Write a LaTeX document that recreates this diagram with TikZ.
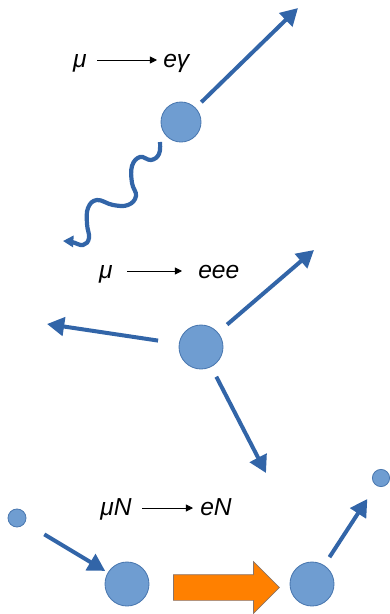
\documentclass[tikz,border=0pt]{standalone}
\usepackage{fontspec}
\setmainfont{Liberation Sans}
\usetikzlibrary{arrows.meta, shapes.arrows}
\definecolor{cball}{HTML}{6F9DD1}
\definecolor{cedge}{HTML}{4A78B0}
\definecolor{cray}{HTML}{3265A8}
\definecolor{corange}{HTML}{FF8000}
\definecolor{coedge}{HTML}{8A7468}
\tikzset{
  ball/.style={circle, draw=cedge, fill=cball, line width=0.6pt, minimum size=#1, inner sep=0pt},
  ball/.default=11mm,
  ray/.style={-{Triangle[length=4.3mm, width=4.6mm]}, draw=cray, line width=1mm},
  photon/.style={-{Triangle[length=2.6mm, width=2.8mm]}, draw=cray, line width=1.05mm},
  rxn/.style={-{Triangle[length=1.8mm, width=1.8mm]}, line width=0.22mm},
  eq/.style={font=\itshape\fontsize{17.5}{20}\selectfont, inner sep=0pt},
  push/.style={single arrow, draw=coedge, fill=corange, line width=0.5pt, minimum height=26.5mm,
               single arrow head extend=3.25mm, inner xsep=0pt, inner ysep=3.125mm},
}
\begin{document}
\begin{tikzpicture}[x=0.25mm, y=-0.25mm]
  \useasboundingbox (0,0) rectangle (390,614);
  % mu -> e gamma
  \node[eq, anchor=base east] (mu1) at (87,67) {μ};
  \node[eq, anchor=base west] (eg) at (163,67) {eγ};
  \draw[rxn, shorten <=2.5mm, shorten >=1.5mm] ([yshift=1.75mm]mu1.base east) -- ([yshift=1.75mm]eg.base west);
  \node[ball=10mm] (c1) at (181,122) {};
  \coordinate (t1) at (298,8);
  \draw[ray, shorten <=2mm] (c1) -- (t1);
  \draw[photon] plot[smooth, tension=0.7] coordinates {(160,142) (159,154) (151,160) (140,157) (132,166)
    (132,183) (136,196) (128,205) (113,205) (97,200) (88,208) (87,224) (89,238) (83,245) (72,242) (63,241)};
  % mu -> eee
  \node[eq, anchor=base east] (mu2) at (113,278) {μ};
  \node[eq, anchor=base west] (eee) at (198,278) {eee};
  \draw[rxn, shorten <=3.5mm, shorten >=4mm] ([yshift=1.75mm]mu2.base east) -- ([yshift=1.75mm]eee.base west);
  \node[ball] (c2) at (201,347) {};
  \coordinate (t2) at (314,250);
  \coordinate (t3) at (47,324);
  \coordinate (t4) at (266,473);
  \draw[ray, shorten <=3mm] (c2) -- (t2);
  \draw[ray, shorten <=5.25mm] (c2) -- (t3);
  \draw[ray, shorten <=2.75mm] (c2) -- (t4);
  % mu N -> e N
  \node[eq, anchor=base east] (muN) at (132,515) {μN};
  \node[eq, anchor=base west] (eN) at (200,515) {eN};
  \draw[rxn, shorten <=2.5mm, shorten >=1.75mm] ([yshift=1.75mm]muN.base east) -- ([yshift=1.75mm]eN.base west);
  \node[ball=4.5mm] (s1) at (17,518) {};
  \node[ball] (n1) at (127,584) {};
  \node[ball] (n2) at (312,584) {};
  \node[ball=4.3mm] (s2) at (381,478) {};
  \draw[ray, shorten <=5.6mm, shorten >=0.75mm] (s1) -- (n1);
  \draw[ray, shorten <=2.4mm, shorten >=4mm] (n2) -- (s2);
  \node[push] (conv) at (220,587.5) {};
\end{tikzpicture}
\end{document}
